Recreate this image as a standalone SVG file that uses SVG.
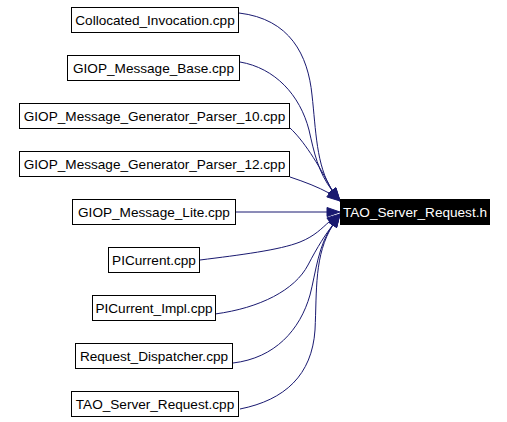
<svg xmlns="http://www.w3.org/2000/svg" width="507" height="422" viewBox="0 0 507 422">
<style>
.n rect{fill:#fff;stroke:#000;stroke-width:1}
.t rect{fill:#000;stroke:#000;stroke-width:1}
text{font-family:"Liberation Sans",Arial,sans-serif;font-size:13.6px;text-anchor:middle;fill:#000}
.t text{fill:#fff}
.e path{fill:none;stroke:#191970;stroke-width:1}
.e polygon{fill:#191970;stroke:#191970;stroke-width:1}
</style>
<rect width="507" height="422" fill="#fff"/>
<g class="e" id="edges">
<path d="M239,13 C290,19 308,55 312,95 C316,130 316,165 332.2,190.6"/>
<polygon points="328.6,193.3 340,201 335.8,187.9"/>
<path d="M240,62 C275,68 300,95 309,130 C314,152 318,172 332.2,190.6"/>
<polygon points="328.6,193.3 340,201 335.8,187.9"/>
<path d="M290,128 C303,140 318,163 332.2,190.6"/>
<polygon points="328.6,193.3 340,201 335.8,187.9"/>
<path d="M290,177 C305,182 318,187 329.5,193.3"/>
<polygon points="326.8,196.9 340,201 332.2,189.7"/>
<path d="M236,212 L327,212"/>
<polygon points="327,207.5 340,212 327,216.5"/>
<path d="M200,260 C240,255 280,250 300,242 C315,236 322,228 329.5,221.5"/>
<polygon points="332.1,225.2 340,214 326.9,217.9"/>
<path d="M215,314 C260,308 295,290 308,265 C318,246 325,235 332.9,224.9"/>
<polygon points="336.6,227.4 340,214 329.1,222.4"/>
<path d="M233,363 C275,358 300,330 310,295 C316,272 318,245 332.9,224.9"/>
<polygon points="336.6,227.4 340,214 329.1,222.4"/>
<path d="M240,409 C285,400 312,375 315,330 C317,290 314,255 332.9,224.9"/>
<polygon points="336.6,227.4 340,214 329.1,222.4"/>
</g>
<g class="n" id="n1"><rect x="71.5" y="7.5" width="167" height="25"/><text x="155" y="24.8">Collocated_Invocation.cpp</text></g>
<g class="n" id="n2"><rect x="67.5" y="55.5" width="172" height="25"/><text x="153.5" y="72.8">GIOP_Message_Base.cpp</text></g>
<g class="n" id="n3"><rect x="19.5" y="103.5" width="270" height="25"/><text x="154.5" y="120.8">GIOP_Message_Generator_Parser_10.cpp</text></g>
<g class="n" id="n4"><rect x="19.5" y="151.5" width="270" height="25"/><text x="154.5" y="168.8">GIOP_Message_Generator_Parser_12.cpp</text></g>
<g class="n" id="n5"><rect x="72.5" y="199.5" width="163" height="25"/><text x="154" y="216.8">GIOP_Message_Lite.cpp</text></g>
<g class="n" id="n6"><rect x="108.5" y="247.5" width="91" height="25"/><text x="154" y="264.8">PICurrent.cpp</text></g>
<g class="n" id="n7"><rect x="92.5" y="295.5" width="123" height="25"/><text x="154" y="312.8">PICurrent_Impl.cpp</text></g>
<g class="n" id="n8"><rect x="75.5" y="343.5" width="157" height="25"/><text x="154" y="360.8">Request_Dispatcher.cpp</text></g>
<g class="n" id="n9"><rect x="71.5" y="391.5" width="167" height="25"/><text x="155" y="408.8">TAO_Server_Request.cpp</text></g>
<g class="t" id="target"><rect x="340.5" y="199.5" width="149" height="25"/><text x="415" y="216.8">TAO_Server_Request.h</text></g>
</svg>
